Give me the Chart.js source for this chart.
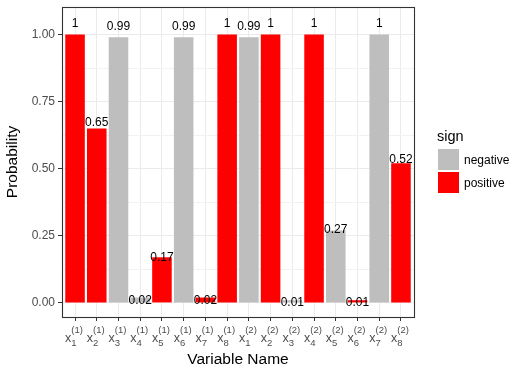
<!DOCTYPE html>
<html><head><meta charset="utf-8">
<script src="https://cdn.jsdelivr.net/npm/chart.js@4"></script>
<style>html,body{margin:0;padding:0;background:#fff}#wrap{width:524px;height:373px}</style>
</head><body><div id="wrap"><canvas id="c" width="524" height="373"></canvas></div>
<script>
// ---- data ----
const varBase = ['x','x','x','x','x','x','x','x','x','x','x','x','x','x','x','x'];
const varSub = ['1','2','3','4','5','6','7','8','1','2','3','4','5','6','7','8'];
const varSup = ['(1)','(1)','(1)','(1)','(1)','(1)','(1)','(1)','(2)','(2)','(2)','(2)','(2)','(2)','(2)','(2)'];
const probability = [1,0.65,0.99,0.02,0.17,0.99,0.02,1,0.99,1,0.01,1,0.27,0.01,1,0.52];
const sign = ['positive','positive','negative','negative','positive','negative','positive','positive',
              'negative','positive','negative','positive','negative','positive','negative','positive'];
const signLevels = ['negative','positive'];
const signColors = ['#BEBEBE','#FF0000'];
const yTickValues = [0,0.25,0.5,0.75,1];
const yMinorValues = [0.125,0.375,0.625,0.875];

const FONT = "'Liberation Sans', Arial, sans-serif";

const datasets = signLevels.map((s, k) => ({
  label: s,
  data: probability.map((v, i) => ({x: i + 1, y: v, s: sign[i]})).filter(p => p.s === s),
  backgroundColor: signColors[k],
  borderWidth: 0,
  grouped: false,
  barPercentage: 0.9,
  categoryPercentage: 1.0
}));

const isMajor = v => yTickValues.some(t => Math.abs(t - v) < 1e-9);

const decor = {
  id: 'decor',
  afterDatasetsDraw(chart) {
    const ctx = chart.ctx, xs = chart.scales.x, ys = chart.scales.y;
    ctx.save();
    ctx.fillStyle = '#000';
    ctx.font = '12px ' + FONT;
    ctx.textAlign = 'center';
    ctx.textBaseline = 'alphabetic';
    probability.forEach((v, i) => {
      const px = xs.getPixelForValue(i + 1);
      const py = ys.getPixelForValue(v * 1.05);
      ctx.fillText(String(v), px, py + 6.3);
    });
    ctx.restore();
  },
  afterDraw(chart) {
    const ctx = chart.ctx, xs = chart.scales.x, a = chart.chartArea;
    ctx.save();
    ctx.strokeStyle = '#333333';
    ctx.lineWidth = 1.1;
    ctx.strokeRect(Math.round(a.left) + 0.5, Math.round(a.top) + 0.5,
                   Math.round(a.right - a.left), Math.round(a.bottom - a.top));
    ctx.fillStyle = '#4D4D4D';
    ctx.textBaseline = 'alphabetic';
    ctx.textAlign = 'left';
    const bigF = '12.5px ' + FONT, smallF = '9.5px ' + FONT;
    varBase.forEach((b, i) => {
      const px = xs.getPixelForValue(i + 1);
      ctx.font = bigF; const wb = ctx.measureText(b).width;
      ctx.font = smallF; const ws = Math.max(ctx.measureText(varSub[i]).width, ctx.measureText(varSup[i]).width);
      const x0 = px - (wb + ws) / 2 - 1;
      ctx.font = bigF; ctx.fillText(b, x0, 342);
      ctx.font = smallF;
      ctx.fillText(varSub[i], x0 + wb, 346);
      ctx.fillText(varSup[i], x0 + wb, 333);
    });
    ctx.fillStyle = '#000';
    ctx.font = '14.5px ' + FONT;
    ctx.fillText('sign', 437, 141);
    ctx.font = '12px ' + FONT;
    chart.data.datasets.forEach((d, k) => {
      const top = 149 + k * 23;
      ctx.fillStyle = d.backgroundColor;
      ctx.fillRect(438, top, 21, 21);
      ctx.fillStyle = '#000';
      ctx.fillText(d.label, 464, top + 15);
    });
    ctx.restore();
  }
};

new Chart(document.getElementById('c'), {
  type: 'bar',
  data: {datasets},
  options: {
    responsive: false,
    animation: false,
    devicePixelRatio: 1,
    layout: {padding: {left: 0, right: 110, top: 7, bottom: 0}},
    plugins: {legend: {display: false}, tooltip: {enabled: false}},
    scales: {
      x: {
        type: 'linear', min: 0.4, max: 16.6, offset: false,
        afterBuildTicks: s => { s.ticks = probability.map((v, i) => ({value: i + 1})); },
        afterFit: s => { s.height = 56; s.paddingLeft = 0; s.paddingRight = 0; },
        ticks: {display: false},
        grid: {offset: false, color: '#EBEBEB', lineWidth: 1, tickColor: '#333333', tickLength: 4, drawTicks: true},
        border: {display: false},
        title: {display: true, text: 'Variable Name', color: '#000', font: {family: FONT, size: 15.5}, padding: {top: 0, bottom: 4}}
      },
      y: {
        min: -0.0525, max: 1.1025,
        afterBuildTicks: s => { s.ticks = yTickValues.concat(yMinorValues).sort((p, q) => p - q).map(v => ({value: v})); },
        afterFit: s => { s.width = 62; s.paddingTop = 0; s.paddingBottom = 0; },
        ticks: {
          color: '#4D4D4D', font: {family: FONT, size: 12}, padding: 3,
          callback: v => isMajor(v) ? v.toFixed(2) : ''
        },
        grid: {
          color: c => isMajor(c.tick.value) ? '#EBEBEB' : '#F2F2F2',
          lineWidth: 1,
          tickColor: c => isMajor(c.tick.value) ? '#333333' : 'rgba(0,0,0,0)',
          tickLength: 4
        },
        border: {display: false},
        title: {display: true, text: 'Probability', color: '#000', font: {family: FONT, size: 15.5}, padding: {top: 3, bottom: 0}}
      }
    }
  },
  plugins: [decor]
});
</script></body></html>
